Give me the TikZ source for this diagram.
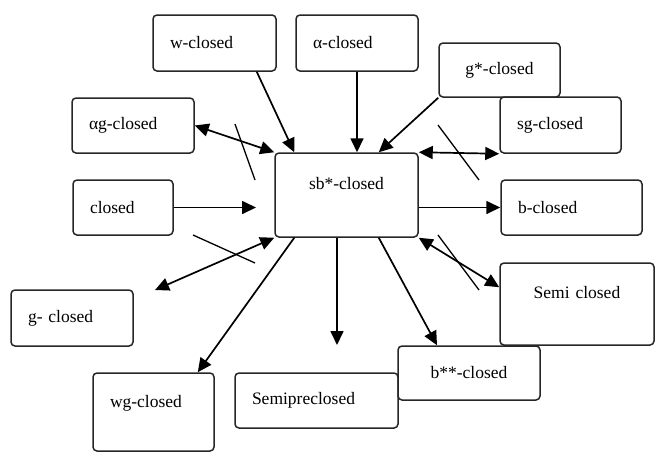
\documentclass[tikz,border=0pt]{standalone}
\usepackage{fontspec}
\setmainfont{Liberation Serif}
\usetikzlibrary{arrows.meta,positioning}

\begin{document}
\begin{tikzpicture}
  [x=1pt,y=-1pt,
   box/.style={draw=black!85,rounded corners=4pt,line width=1.5pt,inner xsep=17pt,inner ysep=0pt,
     align=left,font=\fontsize{17.5}{20}\selectfont},
   mid/.style={align=center},
   imp/.style={line width=1.7pt,-{Triangle[length=14pt,width=13pt]}},
   both/.style={line width=1.7pt,{Triangle[length=14pt,width=13pt]}-{Triangle[length=14pt,width=13pt]}},
   cut/.style={line width=1.3pt}]
  \useasboundingbox (0,0) rectangle (656,453);

  \node[box,text width=89pt,minimum height=56pt] (w) at (214.5,43) {w-closed};
  \node[box,text width=88pt,minimum height=56pt] (al) at (357,43) {α-closed};
  \node[box,mid,text width=87pt,minimum height=54pt] (gs) at (499.5,70) {g*-closed};
  \node[box,text width=88pt,minimum height=55pt] (ag) at (133,125.5) {αg-closed};
  \node[box,text width=87pt,minimum height=56pt] (sg) at (560.5,125) {sg-closed};
  \node[box,text width=66pt,minimum height=55pt] (cl) at (123,207.5) {closed};
  \node[box,mid,text width=109pt,minimum height=84pt,text depth=24pt] (sb) at (346.5,195) {sb*-closed};
  \node[box,text width=107pt,minimum height=55pt] (b) at (571.5,207.5) {b-closed};
  \node[box,text width=88pt,minimum height=56pt] (gm) at (72,318) {g- closed};
  \node[box,mid,text width=120pt,minimum height=82pt,text depth=24pt] (semi) at (577,304) {Semi closed};
  \node[box,mid,text width=108pt,minimum height=54pt] (bss) at (469,373) {b**-closed};
  \node[box,text width=129pt,minimum height=55pt] (sp) at (316.5,400.5) {Semipreclosed};
  \node[box,text width=87pt,minimum height=78pt,text depth=21pt] (wg) at (153.5,412) {wg-closed};

  \coordinate (cin) at (256,207.5);
  \coordinate (gout) at (155,290);
  \coordinate (sdown) at (337,345);

  \draw[imp] ([xshift=-20pt]w.south east) -- ([xshift=20pt]sb.north west);
  \draw[imp] (al.south) -- (al.south |- sb.north);
  \draw[imp] (gs.south west) -- ([xshift=-40pt]sb.north east);
  \draw[both] (ag.east) -- (sb.north west);
  \draw[imp] (cl.east) -- (cin);
  \draw[both] (sb.north east) -- (sg.south west);
  \draw[imp] (b.west -| sb.east) -- (b.west);
  \draw[both] (gout) -- (sb.south west);
  \draw[imp] ([xshift=20pt]sb.south west) -- ([xshift=-17pt]wg.north east);
  \draw[imp] (sdown |- sb.south) -- (sdown);
  \draw[imp] ([xshift=-40pt]sb.south east) -- ([xshift=-32pt]bss.north);
  \draw[both] (sb.south east) -- ([yshift=-25pt]semi.north west);

  % the crossed-out implications
  \foreach \xa/\ya/\xb/\yb in {235/124/255/180, 438/125/479/180, 193/235/255/263, 438/235/479/290}
    \draw[cut] (\xa,\ya) -- (\xb,\yb);
\end{tikzpicture}
\end{document}
